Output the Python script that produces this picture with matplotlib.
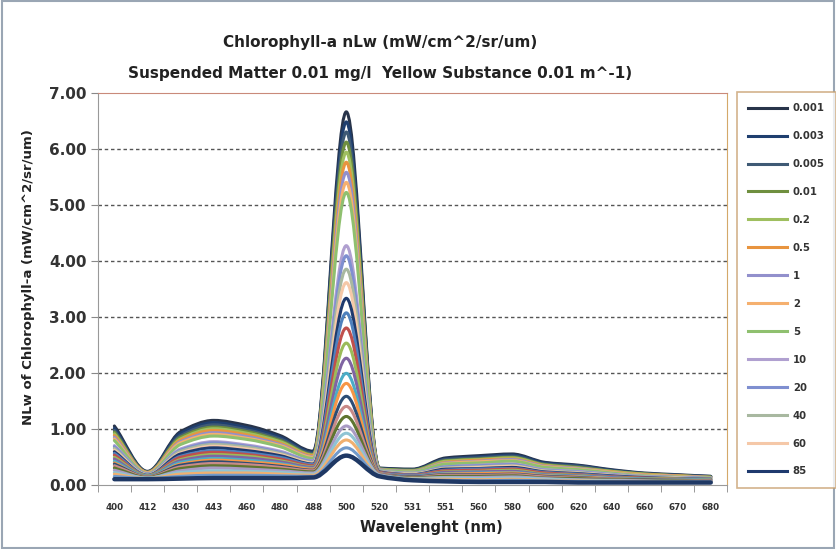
import numpy as np
import matplotlib
matplotlib.use("Agg")
import matplotlib.pyplot as plt
from matplotlib.patches import Rectangle, PathPatch
from matplotlib.path import Path
from matplotlib.lines import Line2D

plt.rcParams['font.family'] = ['DejaVu Sans']

wavelengths = ["400", "412", "430", "443", "460", "480", "488", "500", "520", "531",
               "551", "560", "580", "600", "620", "640", "660", "670", "680"]

# legend in the original only holds the first 14 series (Excel truncates the rest)
legend_labels = ["0.001", "0.003", "0.005", "0.01", "0.2", "0.5", "1", "2", "5",
                 "10", "20", "40", "60", "85"]

# nLw per series, one row per series, columns follow wavelengths
nlw_rows = [
    [1.05, 0.24, 0.95, 1.15, 1.06, 0.88, 0.60, 6.66, 0.30, 0.28, 0.48, 0.52, 0.55, 0.40, 0.35, 0.27, 0.21, 0.18, 0.15],
    [1.01, 0.23, 0.92, 1.11, 1.02, 0.85, 0.58, 6.48, 0.29, 0.27, 0.46, 0.50, 0.53, 0.39, 0.34, 0.26, 0.20, 0.17, 0.15],
    [0.97, 0.23, 0.88, 1.07, 0.98, 0.82, 0.56, 6.30, 0.29, 0.26, 0.45, 0.48, 0.51, 0.37, 0.33, 0.25, 0.20, 0.17, 0.14],
    [0.94, 0.22, 0.85, 1.03, 0.95, 0.79, 0.54, 6.12, 0.28, 0.26, 0.43, 0.46, 0.49, 0.36, 0.31, 0.24, 0.19, 0.16, 0.14],
    [0.91, 0.22, 0.82, 1.00, 0.92, 0.77, 0.53, 5.94, 0.28, 0.25, 0.42, 0.45, 0.48, 0.35, 0.30, 0.24, 0.19, 0.16, 0.13],
    [0.88, 0.22, 0.80, 0.97, 0.89, 0.74, 0.52, 5.76, 0.27, 0.24, 0.40, 0.44, 0.46, 0.34, 0.29, 0.23, 0.18, 0.16, 0.13],
    [0.85, 0.21, 0.77, 0.93, 0.86, 0.72, 0.50, 5.58, 0.27, 0.24, 0.39, 0.42, 0.45, 0.33, 0.29, 0.22, 0.17, 0.15, 0.13],
    [0.82, 0.21, 0.75, 0.90, 0.83, 0.70, 0.49, 5.40, 0.26, 0.23, 0.38, 0.41, 0.43, 0.32, 0.28, 0.22, 0.17, 0.15, 0.12],
    [0.79, 0.20, 0.72, 0.87, 0.81, 0.68, 0.47, 5.22, 0.26, 0.23, 0.37, 0.39, 0.42, 0.31, 0.27, 0.21, 0.16, 0.14, 0.12],
    [0.70, 0.19, 0.64, 0.77, 0.71, 0.60, 0.43, 4.27, 0.25, 0.21, 0.32, 0.35, 0.37, 0.27, 0.24, 0.19, 0.15, 0.13, 0.11],
    [0.68, 0.19, 0.62, 0.75, 0.69, 0.58, 0.42, 4.09, 0.24, 0.20, 0.32, 0.34, 0.36, 0.26, 0.23, 0.18, 0.14, 0.13, 0.11],
    [0.65, 0.18, 0.60, 0.72, 0.67, 0.56, 0.40, 3.85, 0.24, 0.20, 0.30, 0.32, 0.34, 0.25, 0.22, 0.17, 0.14, 0.12, 0.10],
    [0.62, 0.18, 0.57, 0.69, 0.64, 0.54, 0.39, 3.61, 0.23, 0.19, 0.29, 0.31, 0.33, 0.24, 0.21, 0.17, 0.13, 0.12, 0.10],
    [0.59, 0.17, 0.55, 0.66, 0.61, 0.52, 0.37, 3.33, 0.23, 0.18, 0.28, 0.29, 0.31, 0.23, 0.20, 0.16, 0.13, 0.11, 0.10],
    [0.56, 0.17, 0.51, 0.61, 0.57, 0.49, 0.36, 3.07, 0.22, 0.18, 0.26, 0.28, 0.29, 0.22, 0.19, 0.15, 0.12, 0.11, 0.09],
    [0.53, 0.16, 0.49, 0.58, 0.54, 0.46, 0.34, 2.80, 0.22, 0.17, 0.25, 0.26, 0.28, 0.21, 0.18, 0.14, 0.12, 0.10, 0.09],
    [0.49, 0.16, 0.45, 0.54, 0.51, 0.43, 0.32, 2.53, 0.21, 0.16, 0.23, 0.24, 0.26, 0.19, 0.17, 0.13, 0.11, 0.10, 0.09],
    [0.46, 0.15, 0.43, 0.51, 0.48, 0.41, 0.31, 2.26, 0.21, 0.16, 0.22, 0.23, 0.24, 0.18, 0.16, 0.13, 0.10, 0.09, 0.08],
    [0.42, 0.15, 0.40, 0.47, 0.44, 0.38, 0.29, 1.99, 0.20, 0.15, 0.20, 0.21, 0.22, 0.17, 0.15, 0.12, 0.10, 0.09, 0.08],
    [0.39, 0.14, 0.37, 0.44, 0.41, 0.36, 0.28, 1.81, 0.20, 0.14, 0.19, 0.20, 0.21, 0.16, 0.14, 0.11, 0.09, 0.08, 0.07],
    [0.37, 0.14, 0.35, 0.41, 0.38, 0.33, 0.26, 1.58, 0.19, 0.14, 0.18, 0.18, 0.19, 0.15, 0.13, 0.10, 0.09, 0.08, 0.07],
    [0.34, 0.14, 0.32, 0.38, 0.36, 0.31, 0.25, 1.40, 0.19, 0.13, 0.17, 0.17, 0.18, 0.14, 0.12, 0.10, 0.08, 0.08, 0.07],
    [0.30, 0.13, 0.29, 0.34, 0.32, 0.28, 0.23, 1.22, 0.18, 0.12, 0.15, 0.15, 0.16, 0.12, 0.11, 0.09, 0.08, 0.07, 0.06],
    [0.26, 0.12, 0.25, 0.30, 0.28, 0.25, 0.21, 1.05, 0.18, 0.11, 0.13, 0.13, 0.14, 0.11, 0.09, 0.08, 0.07, 0.06, 0.06],
    [0.22, 0.12, 0.22, 0.25, 0.24, 0.22, 0.19, 0.92, 0.17, 0.11, 0.12, 0.11, 0.12, 0.10, 0.08, 0.07, 0.06, 0.06, 0.05],
    [0.19, 0.11, 0.19, 0.21, 0.21, 0.19, 0.17, 0.80, 0.16, 0.10, 0.10, 0.09, 0.10, 0.08, 0.07, 0.06, 0.06, 0.05, 0.05],
    [0.15, 0.11, 0.15, 0.17, 0.17, 0.16, 0.15, 0.66, 0.16, 0.09, 0.08, 0.07, 0.08, 0.07, 0.06, 0.05, 0.05, 0.05, 0.05],
    [0.10, 0.10, 0.11, 0.12, 0.12, 0.12, 0.13, 0.52, 0.15, 0.08, 0.06, 0.05, 0.05, 0.05, 0.04, 0.04, 0.04, 0.04, 0.04],
]

line_colors = ['#28344a', '#1f3f6f', '#3f5a75', '#6f8f3f', '#9fbf5f', '#e8943f', '#9290cc',
               '#f5b06f', '#8fc06f', '#b0a0d0', '#7f8fd0', '#a8b8a0', '#f5c8a8', '#1f3a6e',
               '#4f81bd', '#c0504d', '#9bbb59', '#8064a2', '#4bacc6', '#f79646', '#2c4d75',
               '#c88a88', '#5f7530', '#a99bc4', '#8fc4d4', '#f0b070', '#729aca', '#1f3864']


def smooth_path(xs, ys):
    """Smoothed line like Excel's, as a cubic Bezier path (monotone tangents)."""
    ys = np.asarray(ys, dtype=float)
    d = np.diff(ys)
    m = np.zeros_like(ys)
    m[0], m[-1] = d[0], d[-1]
    for k in range(1, len(ys) - 1):
        if d[k - 1] * d[k] > 0:
            m[k] = 2.0 / (1.0 / d[k - 1] + 1.0 / d[k])
    verts = [(xs[0], ys[0])]
    codes = [Path.MOVETO]
    for k in range(len(ys) - 1):
        verts += [(xs[k] + 1 / 3, ys[k] + m[k] / 3),
                  (xs[k + 1] - 1 / 3, ys[k + 1] - m[k + 1] / 3),
                  (xs[k + 1], ys[k + 1])]
        codes += [Path.CURVE4] * 3
    return Path(verts, codes)


fig = plt.figure(figsize=(8.36, 5.49), dpi=100)
fig.patches.append(Rectangle((0.002, 0.002), 0.996, 0.996, transform=fig.transFigure,
                             fill=False, edgecolor='#9aa6b4', lw=1.5))
ax = fig.add_axes([0.117, 0.117, 0.753, 0.714])

x = np.arange(len(wavelengths))
handles = []
n = len(nlw_rows)
for i, row in enumerate(nlw_rows):
    lw = 3.2 if i == n - 1 else 2.2
    col = line_colors[i % len(line_colors)]
    ax.add_patch(PathPatch(smooth_path(x, row), facecolor='none', edgecolor=col,
                           lw=lw, capstyle='round', joinstyle='round'))
    handles.append(Line2D([], [], color=col, lw=lw))

ax.set_xlim(-0.5, len(wavelengths) - 0.5)
ax.set_ylim(0, 7)
ax.set_yticks(np.arange(0, 8, 1))
ax.set_yticklabels([f"{v:.2f}" for v in range(8)], fontsize=11, fontweight='bold',
                   color='#333333')
ax.set_xticks(x)
ax.set_xticklabels(wavelengths, fontsize=6.3, fontweight='bold', color='#333333')
ax.set_xticks(np.arange(-0.5, len(wavelengths), 1), minor=True)
ax.tick_params(axis='x', which='major', length=0, pad=13)
ax.tick_params(axis='x', which='minor', length=5, color='#888888', direction='out')
ax.tick_params(axis='y', length=5, color='#888888', direction='out', pad=3)

for v in range(1, 7):
    ax.axhline(v, color='#555555', lw=1, ls=(0, (2.5, 2)), zorder=0)

ax.spines['left'].set_color('#999999')
ax.spines['bottom'].set_color('#999999')
ax.spines['top'].set_color('#c98a7a')
ax.spines['right'].set_color('#d4a86a')

ax.set_xlabel("Wavelenght (nm)", fontsize=10.5, fontweight='bold', color='#222222')
ax.xaxis.set_label_coords(0.53, -0.09)
ax.set_ylabel("NLw of Chlorophyll-a (mW/cm^2/sr/um)", fontsize=9.5, fontweight='bold',
              color='#222222')
ax.yaxis.set_label_coords(-0.10, 0.53)

fig.text(0.455, 0.923, "Chlorophyll-a nLw (mW/cm^2/sr/um)", ha='center', va='center',
         fontsize=11, fontweight='bold', color='#222222')
fig.text(0.455, 0.867, "Suspended Matter 0.01 mg/l  Yellow Substance 0.01 m^-1)",
         ha='center', va='center', fontsize=11, fontweight='bold', color='#222222')

leg = fig.legend(handles[:len(legend_labels)], legend_labels, loc='upper left',
                 bbox_to_anchor=(0.8816, 0.8324), borderaxespad=0, frameon=True,
                 fancybox=False, fontsize=7.3, handlelength=3.8, labelspacing=1.77,
                 borderpad=1.1, handletextpad=0.6)
leg.get_frame().set_edgecolor('#c8a070')
leg.get_frame().set_linewidth(1.2)
for t in leg.get_texts():
    t.set_fontweight('bold')
    t.set_color('#333333')

fig.savefig("out.png", dpi=100)
